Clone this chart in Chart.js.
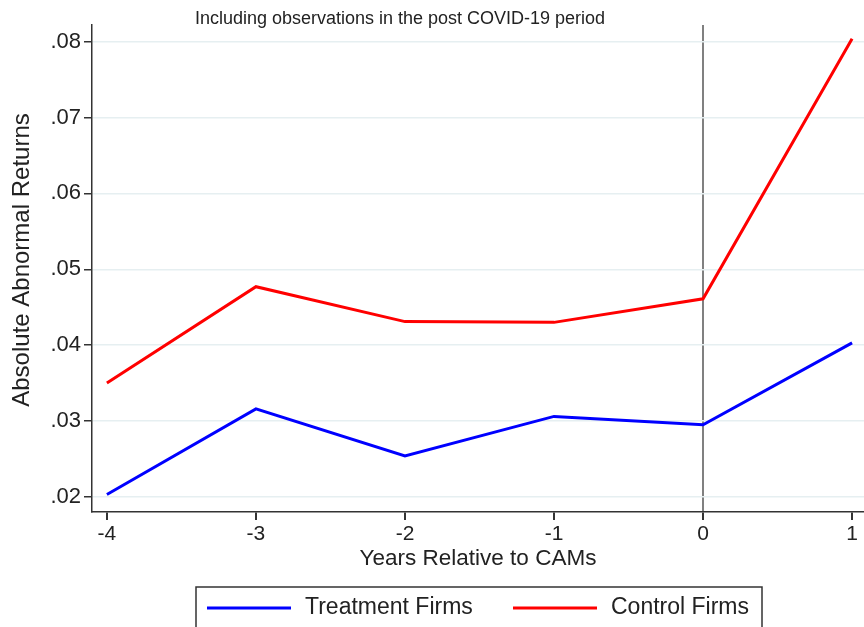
<!DOCTYPE html>
<html>
<head>
<meta charset="utf-8">
<script src="https://cdn.jsdelivr.net/npm/chart.js@4/dist/chart.umd.min.js"></script>
<style>
  html, body { margin: 0; padding: 0; background: #fff; }
  #wrap { width: 864px; height: 627px; }
</style>
</head>
<body>
<div id="wrap"><canvas id="chart" width="864" height="627"></canvas></div>
<script>
/* ── Data ── */
const years        = [-4, -3, -2, -1, 0, 1];
const treatment    = [0.0203, 0.0316, 0.0254, 0.0306, 0.0295, 0.0403];
const control      = [0.0350, 0.0477, 0.0431, 0.0430, 0.0461, 0.0804];
const yTicks       = [0.02, 0.03, 0.04, 0.05, 0.06, 0.07, 0.08];
const xTicks       = [-4, -3, -2, -1, 0, 1];
const seriesLabels = ['Treatment Firms', 'Control Firms'];
const eventYear    = 0;

const FONT = "'Liberation Sans', Arial, sans-serif";
const INK  = '#222';

function toPoints(vals) {
  return years.map((x, i) => ({ x, y: vals[i] }));
}

function fmtTick(v) {
  return '.' + Math.round(v * 100).toString().padStart(2, '0');
}

/* ── Note at top + y-axis title ── */
const notePlugin = {
  id: 'note',
  afterDraw(chart) {
    const c = chart.ctx;
    c.save();
    c.font = '18px ' + FONT;
    c.fillStyle = INK;
    c.textAlign = 'center';
    c.textBaseline = 'middle';
    c.fillText('Including observations in the post COVID-19 period', 400, 19);

    c.font = '24px ' + FONT;
    c.translate(22, 260);
    c.rotate(-Math.PI / 2);
    c.fillText('Absolute Abnormal Returns', 0, 0);
    c.restore();
  }
};

/* ── Boxed legend below the axis ── */
const boxLegend = {
  id: 'boxLegend',
  afterDraw(chart) {
    const c = chart.ctx;
    const sets = chart.data.datasets;
    c.save();
    c.strokeStyle = '#333';
    c.lineWidth = 1.5;
    c.strokeRect(196, 587, 566, 60);
    c.font = '23px ' + FONT;
    c.fillStyle = INK;
    c.textBaseline = 'middle';
    const starts = [207, 513];
    sets.forEach((ds, i) => {
      const x0 = starts[i];
      c.strokeStyle = ds.borderColor;
      c.lineWidth = 3;
      c.beginPath();
      c.moveTo(x0, 608);
      c.lineTo(x0 + 84, 608);
      c.stroke();
      c.fillText(ds.label, x0 + 98, 608);
    });
    c.restore();
  }
};

new Chart(document.getElementById('chart'), {
  type: 'line',
  data: {
    datasets: [
      { label: seriesLabels[0], data: toPoints(treatment), borderColor: '#0000ff', borderWidth: 3, pointRadius: 0, tension: 0 },
      { label: seriesLabels[1], data: toPoints(control),   borderColor: '#ff0000', borderWidth: 3, pointRadius: 0, tension: 0 }
    ]
  },
  options: {
    responsive: false,
    animation: false,
    layout: { padding: { top: 25, right: 0, bottom: 55, left: 0 } },
    plugins: { legend: { display: false }, title: { display: false }, tooltip: { enabled: false } },
    scales: {
      x: {
        type: 'linear',
        min: -4.1,
        max: 1.08,
        afterBuildTicks: s => { s.ticks = xTicks.map(v => ({ value: v })); },
        afterFit: s => { s.height = 60; },
        ticks: { color: INK, font: { family: FONT, size: 21 }, padding: 2, callback: v => String(v) },
        grid: {
          drawOnChartArea: true,
          color: ctx => (ctx.tick && ctx.tick.value === eventYear) ? '#808080' : 'rgba(0,0,0,0)',
          lineWidth: 2,
          tickColor: '#333',
          tickLength: 8
        },
        border: { display: true, color: '#333', width: 1.5 },
        title: { display: true, text: 'Years Relative to CAMs', color: INK, font: { family: FONT, size: 22.5 }, padding: 0 }
      },
      y: {
        min: 0.018,
        max: 0.0822,
        afterBuildTicks: s => { s.ticks = yTicks.map(v => ({ value: v })); },
        afterFit: s => { s.width = 92; },
        ticks: { color: INK, font: { family: FONT, size: 22 }, padding: 3, callback: v => fmtTick(v) },
        grid: { color: '#e6eff1', lineWidth: 1.5, tickColor: '#333', tickLength: 8 },
        border: { display: true, color: '#333', width: 1.5 },
        title: { display: false }
      }
    }
  },
  plugins: [notePlugin, boxLegend]
});
</script>
</body>
</html>
